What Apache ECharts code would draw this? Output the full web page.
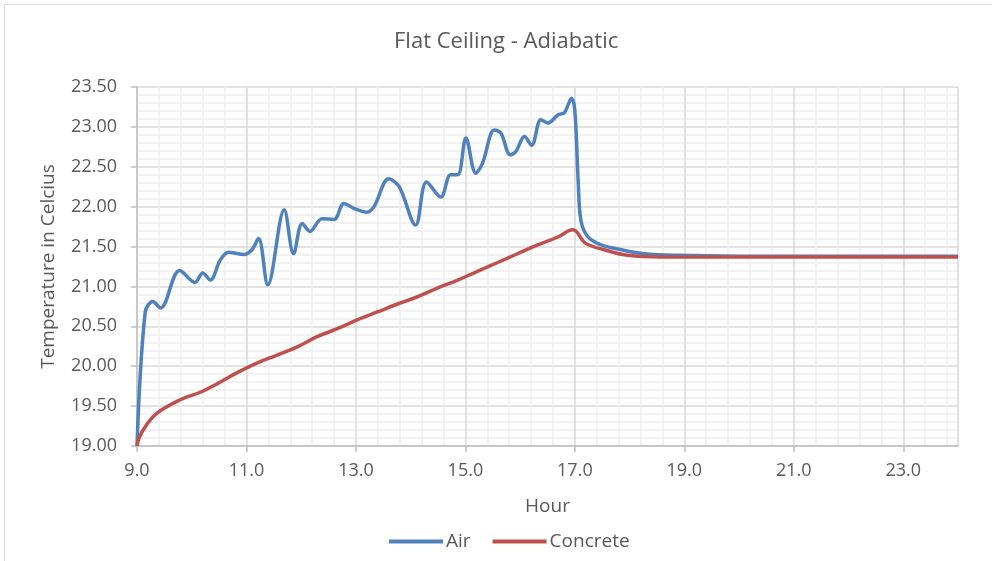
<!DOCTYPE html>
<html><head><meta charset="utf-8">
<script src="https://cdn.jsdelivr.net/npm/echarts@6/dist/echarts.min.js"></script>
<style>html,body{margin:0;padding:0;background:#fff}#c{width:992px;height:561px}</style>
</head><body><div id="c"></div>
<script>
const titleText = 'Flat Ceiling - Adiabatic';
const xName = 'Hour';
const yName = 'Temperature in Celcius';
const seriesNames = ['Air', 'Concrete'];
const airHours = [9.0, 9.15, 9.29, 9.43, 9.78, 10.06, 10.2, 10.34, 10.52, 10.67, 10.95, 11.1, 11.22, 11.39, 11.69, 11.86, 12.02, 12.16, 12.38, 12.6, 12.78, 12.96, 13.2, 13.33, 13.6, 13.79, 14.09, 14.29, 14.55, 14.73, 14.86, 15.01, 15.19, 15.31, 15.53, 15.65, 15.82, 15.92, 16.08, 16.21, 16.38, 16.51, 16.69, 16.81, 16.94, 17.0, 17.06, 17.11, 17.24, 17.48, 17.85, 18.27, 18.88, 20.0, 22.0, 24.0];
const airTemps = [19.0, 20.68, 20.81, 20.73, 21.20, 21.05, 21.17, 21.08, 21.33, 21.43, 21.40, 21.46, 21.60, 21.02, 21.96, 21.41, 21.79, 21.69, 21.85, 21.84, 22.04, 21.98, 21.93, 22.0, 22.35, 22.25, 21.77, 22.31, 22.12, 22.40, 22.40, 22.86, 22.42, 22.54, 22.96, 22.92, 22.65, 22.69, 22.88, 22.77, 23.09, 23.05, 23.15, 23.18, 23.36, 23.2, 22.33, 21.83, 21.62, 21.52, 21.46, 21.41, 21.39, 21.38, 21.38, 21.38];
const concreteHours = [9.0, 9.05, 9.15, 9.36, 9.79, 10.18, 10.49, 10.83, 11.19, 11.56, 11.92, 12.29, 12.66, 13.02, 13.39, 13.76, 14.12, 14.49, 14.86, 15.22, 15.59, 15.95, 16.32, 16.69, 16.96, 17.2, 17.54, 17.97, 18.58, 20.0, 22.0, 24.0];
const concreteTemps = [19.0, 19.12, 19.24, 19.41, 19.58, 19.68, 19.79, 19.92, 20.04, 20.14, 20.24, 20.37, 20.47, 20.58, 20.68, 20.78, 20.87, 20.98, 21.08, 21.19, 21.30, 21.41, 21.52, 21.62, 21.71, 21.54, 21.46, 21.39, 21.37, 21.37, 21.37, 21.37];

const airData = airHours.map((h, i) => [h, airTemps[i]]);
const concreteData = concreteHours.map((h, i) => [h, concreteTemps[i]]);
const FONT = 'Open Sans';
const TXT = '#595959';

const chart = echarts.init(document.getElementById('c'), null, {renderer: 'canvas'});
chart.setOption({
  animation: false,
  backgroundColor: '#fff',
  textStyle: {fontFamily: FONT},
  title: {text: titleText, left: 389, top: 26, textStyle: {fontFamily: FONT, fontSize: 22, fontWeight: 'normal', color: TXT}},
  graphic: [{type: 'rect', shape: {x: 4.5, y: 4.5, width: 1000, height: 600}, style: {fill: 'none', stroke: '#d9d9d9', lineWidth: 1}, silent: true}],
  legend: {
    top: 527, left: 384, itemGap: 22, itemWidth: 54, itemHeight: 4, icon: 'rect',
    textStyle: {fontFamily: FONT, fontSize: 19, color: TXT, padding: [0, 0, 0, -2]},
    data: seriesNames
  },
  grid: {left: 137, right: 34, top: 87, bottom: 115, containLabel: false},
  xAxis: {
    type: 'value', min: 9, max: 24, interval: 2,
    name: xName, nameLocation: 'middle', nameGap: 51,
    nameTextStyle: {fontFamily: FONT, fontSize: 19, color: TXT},
    axisLine: {show: true, lineStyle: {color: '#bfbfbf', width: 1.5}},
    axisTick: {show: true, length: 6, lineStyle: {color: '#bfbfbf', width: 1.5}},
    axisLabel: {color: TXT, fontSize: 18, fontFamily: FONT, margin: 16, showMaxLabel: false, formatter: v => v.toFixed(1)},
    splitLine: {show: true, lineStyle: {color: '#d9d9d9', width: 1.5}},
    minorTick: {show: false, splitNumber: 5},
    minorSplitLine: {show: true, lineStyle: {color: '#eeeeee', width: 1.5}}
  },
  yAxis: {
    type: 'value', min: 19, max: 23.5, interval: 0.5,
    name: yName, nameLocation: 'middle', nameGap: 79, nameRotate: 90,
    nameTextStyle: {fontFamily: FONT, fontSize: 19, color: TXT},
    axisLine: {show: true, lineStyle: {color: '#bfbfbf', width: 1.5}},
    axisTick: {show: true, length: 6, lineStyle: {color: '#bfbfbf', width: 1.5}},
    axisLabel: {color: TXT, fontSize: 18, fontFamily: FONT, margin: 20, formatter: v => v.toFixed(2)},
    splitLine: {show: true, lineStyle: {color: '#d9d9d9', width: 1.5}},
    minorTick: {show: false, splitNumber: 5},
    minorSplitLine: {show: true, lineStyle: {color: '#eeeeee', width: 1.5}}
  },
  series: [
    {name: seriesNames[0], type: 'line', data: airData, showSymbol: false, smooth: 0.35,
     lineStyle: {color: '#4f81bd', width: 3.5}, itemStyle: {color: '#4f81bd'}, z: 3},
    {name: seriesNames[1], type: 'line', data: concreteData, showSymbol: false, smooth: 0.4,
     lineStyle: {color: '#c0504d', width: 3.5}, itemStyle: {color: '#c0504d'}, z: 4}
  ]
});
</script></body></html>
